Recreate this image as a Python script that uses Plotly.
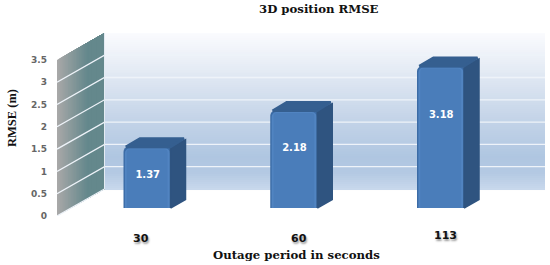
import numpy as np
import plotly.graph_objects as go

# chart values
outage = ['30', '60', '113']
rmse = [1.37, 2.18, 3.18]
wall_ticks = [0, 0.5, 1, 1.5, 2, 2.5, 3, 3.5]
wall_tick_text = ['0', '0.5', '1', '1.5', '2', '2.5', '3', '3.5']

# picture geometry, px
W, H = 550, 265
plot_l, plot_r, plot_t, plot_b = 57, 545, 33, 216
px_per_unit = 44.6
bar_px0, bar_step = 147.75, 146.75
wall_dx, wall_dy = 47.5, 27
bar_dx, bar_dy = 13.5, 8.5
bar_lift = 8


def xpx(p):
    return (p - bar_px0) / bar_step


bar_w = 48.5 / bar_step
depth_x = bar_dx / bar_step
depth_y = bar_dy / px_per_unit
back_x = xpx(plot_l + wall_dx)
left_x = xpx(plot_l)
right_x = xpx(plot_r)
back_y = wall_dy / px_per_unit
y_top = (plot_b - plot_t) / px_per_unit
positions = list(range(len(outage)))

fig = go.Figure()

# back wall gradient
rows = np.linspace(back_y, y_top, 80)
fig.add_trace(go.Heatmap(
    z=[[v] for v in np.linspace(0, 1, 80)], y=rows, x0=(back_x + right_x) / 2, dx=right_x - back_x,
    colorscale=[[0, '#c8d8ec'], [0.1, '#b4c9e3'], [0.2, '#afc6e1'], [0.45, '#c4d4e8'],
                [0.75, '#e3eaf4'], [1, '#fafbfe']],
    showscale=False, hoverinfo='skip'))

# left wall gradient, painted left to right so the strips leave no seams
n_strips = 30
c0, c1 = np.array([168, 168, 168]), np.array([100, 136, 140])
for i in range(n_strips):
    t0 = i / n_strips
    xa = plot_l + wall_dx * t0
    xb = plot_l + wall_dx
    c = c0 + (c1 - c0) * min(1, t0 * 1.6)
    fig.add_trace(go.Scatter(
        x=[xpx(xa), xpx(xb), xpx(xb), xpx(xa), xpx(xa)],
        y=[back_y * t0, back_y, y_top, y_top - back_y * (1 - t0), back_y * t0],
        mode='none', fill='toself', fillcolor='rgb(%d,%d,%d)' % tuple(c), hoverinfo='skip'))

# grid lines over both walls
for v in wall_ticks[1:-1] + [0.0]:
    fig.add_trace(go.Scatter(
        x=[left_x, back_x, right_x] if v > 0 else [left_x, back_x],
        y=[v, v + back_y, v + back_y] if v > 0 else [v, v + back_y],
        mode='lines', line=dict(color='#eef3f9', width=1.3), hoverinfo='skip'))
fig.add_trace(go.Scatter(x=[back_x, back_x], y=[back_y, y_top], mode='lines',
                         line=dict(color='#e4ebf3', width=1), hoverinfo='skip'))

# bars: side and top faces, then front face
for p, v in zip(positions, rmse):
    xr = p + bar_w / 2
    xl = p - bar_w / 2
    fig.add_trace(go.Scatter(
        x=[xr - 0.01, xr + depth_x, xr + depth_x, xr - 0.01, xr - 0.01],
        y=[0, depth_y, v + depth_y - 0.03, v, 0],
        yaxis='y2', mode='lines', fill='toself', fillcolor='#2f5480',
        line=dict(color='#2f5480', width=1.5), hoverinfo='skip'))
    fig.add_trace(go.Scatter(
        x=[xl + 0.015, xl + depth_x + 0.02, xr + depth_x - 0.01, xr - 0.01, xl + 0.015],
        y=[v, v + depth_y, v + depth_y, v, v],
        yaxis='y2', mode='lines', fill='toself', fillcolor='#355f90',
        line=dict(color='#355f90', width=2.5), hoverinfo='skip'))

fig.add_trace(go.Bar(x=positions, y=rmse, width=bar_w, yaxis='y2',
                     marker=dict(color='#3c6ca6', cornerradius=5, line_width=0), hoverinfo='skip'))
fig.add_trace(go.Bar(x=[p - 0.002 for p in positions], y=[v - 0.03 for v in rmse], width=bar_w * 0.93, yaxis='y2',
                     marker=dict(color='#5184c1', cornerradius=5, line_width=0), hoverinfo='skip'))
fig.add_trace(go.Bar(x=[p - 0.004 for p in positions], y=[v - 0.05 for v in rmse], width=bar_w * 0.84, yaxis='y2',
                     marker=dict(color='#4a7dba', cornerradius=3, line_width=0), hoverinfo='skip'))

# value labels sit below the middle of the taller bars
fig.add_trace(go.Scatter(
    x=positions, y=[0.746 * v - 0.30 for v in rmse], yaxis='y2',
    mode='text', text=['%.2f' % v for v in rmse],
    textfont=dict(family='DejaVu Sans', size=10, color='white', weight='bold'), hoverinfo='skip'))

serif = 'DejaVu Serif'
annotations = [
    dict(text='3D position RMSE', x=319, y=9, font=dict(family=serif, size=11.7, color='#111', weight='bold')),
    dict(text='Outage period in seconds', x=296, y=255, font=dict(family=serif, size=11.7, color='#111', weight='bold')),
    dict(text='RMSE (m)', x=12, y=118, textangle=-90,
         font=dict(family='Liberation Serif', size=12.5, color='#111', weight='bold')),
]
label_px = [140.5, 299, 445]
label_py = [239, 239, 236]
for t, lx, ly in zip(outage, label_px, label_py):
    annotations.append(dict(text=t, x=lx, y=ly,
                            font=dict(family='DejaVu Sans', size=11, color='#111', weight='bold',
                                      shadow='1px 2px 2px #999')))
for a in annotations:
    a.update(xref='paper', yref='paper', showarrow=False, xanchor='center', yanchor='middle')
    a['x'] = (a['x'] - plot_l) / (plot_r - plot_l)
    a['y'] = (plot_b - a['y']) / (plot_b - plot_t)

# y2 shares y's domain when overlaying, so the bar floor is lifted through its range
lift = bar_lift / px_per_unit
fig.update_layout(
    width=W, height=H, autosize=False,
    margin=dict(l=plot_l, r=W - plot_r, t=plot_t, b=H - plot_b, pad=0),
    paper_bgcolor='white', plot_bgcolor='white',
    showlegend=False, barmode='overlay',
    annotations=annotations,
    xaxis=dict(range=[left_x, right_x], visible=False, fixedrange=True),
    yaxis=dict(range=[0, y_top], tickvals=wall_ticks, ticktext=wall_tick_text, showgrid=False,
               zeroline=False, showline=False, ticks='', ticklabelstandoff=9,
               tickfont=dict(family='DejaVu Sans', size=9, color='#666', weight='bold'), fixedrange=True),
    yaxis2=dict(range=[-lift, y_top - lift], overlaying='y', visible=False, fixedrange=True),
)

# the browser's default body margin would push the figure 8px in
fig.write_html("out.html", config=dict(displayModeBar=False),
               post_script="document.body.style.margin='0';document.body.style.overflow='hidden';")
